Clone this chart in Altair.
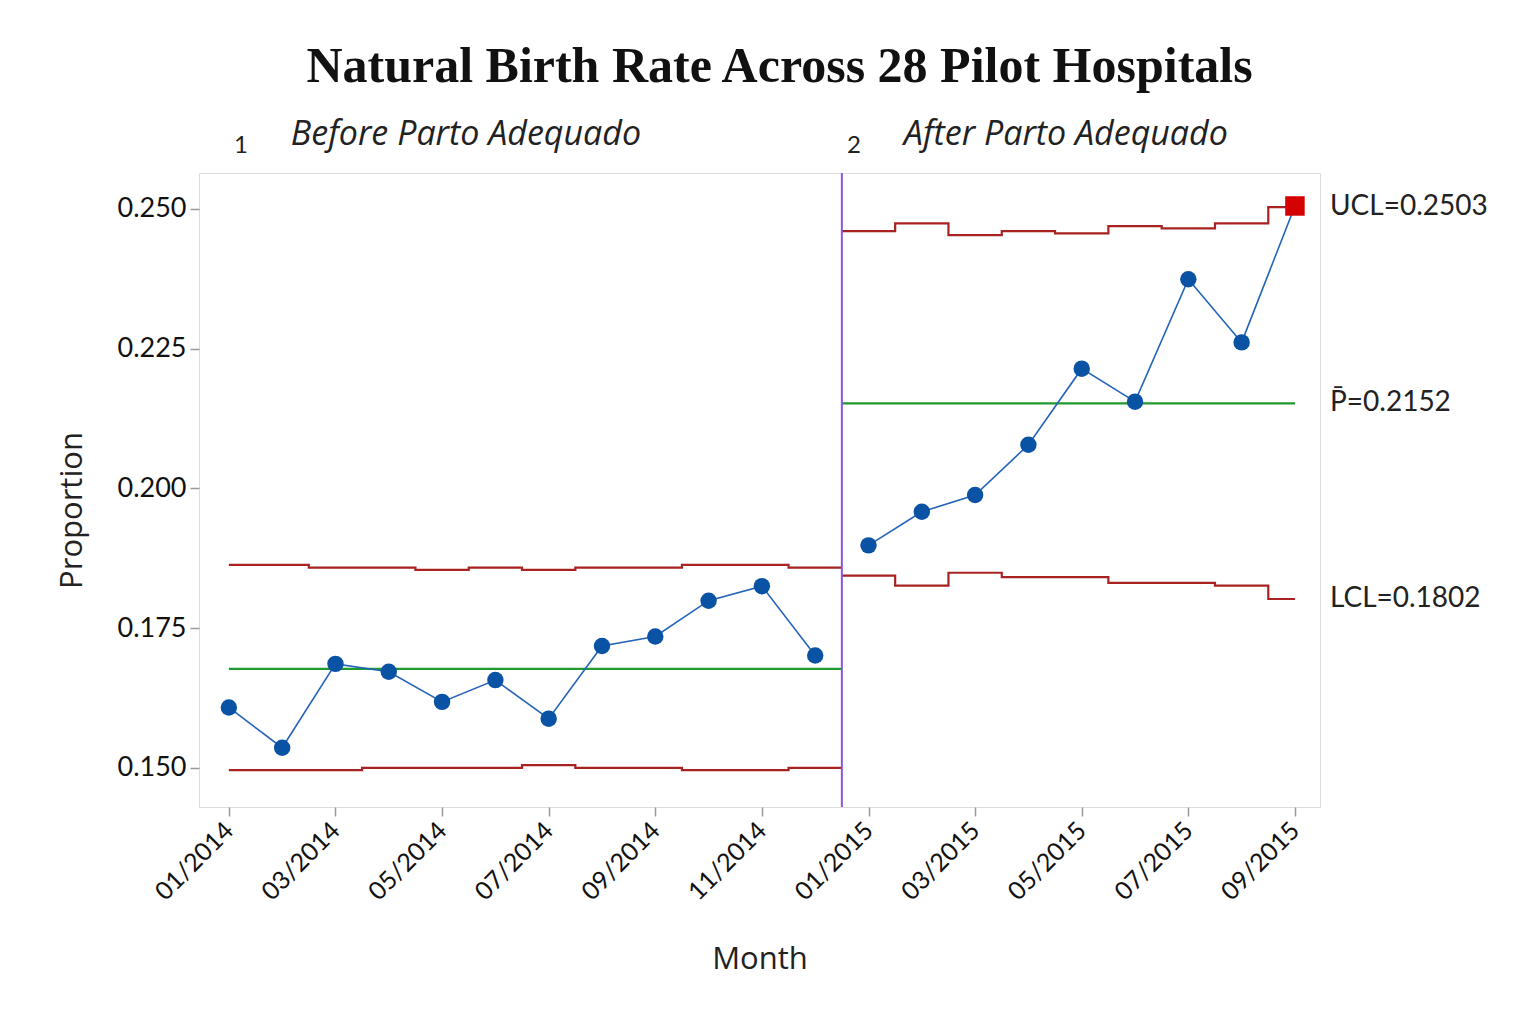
import altair as alt
import pandas as pd

title_text = "Natural Birth Rate Across 28 Pilot Hospitals"
x_title = "Month"
y_title = "Proportion"

months = ["01/2014", "02/2014", "03/2014", "04/2014", "05/2014", "06/2014",
          "07/2014", "08/2014", "09/2014", "10/2014", "11/2014", "12/2014",
          "01/2015", "02/2015", "03/2015", "04/2015", "05/2015", "06/2015",
          "07/2015", "08/2015", "09/2015"]
proportion = [0.1608, 0.1536, 0.1686, 0.1672, 0.1618, 0.1657, 0.1588, 0.1718,
              0.1735, 0.1799, 0.1825, 0.1701,
              0.1898, 0.1958, 0.1988, 0.2078, 0.2214, 0.2155, 0.2374, 0.2261, 0.2505]
ucl = [0.1863, 0.1863, 0.1858, 0.1858, 0.1854, 0.1858, 0.1854, 0.1858,
       0.1858, 0.1863, 0.1863, 0.1858,
       0.2460, 0.2474, 0.2453, 0.2460, 0.2456, 0.2469, 0.2465, 0.2474, 0.2503]
lcl = [0.1496, 0.1496, 0.1496, 0.1500, 0.1500, 0.1500, 0.1505, 0.1500,
       0.1500, 0.1496, 0.1496, 0.1500,
       0.1844, 0.1826, 0.1849, 0.1841, 0.1841, 0.1831, 0.1831, 0.1826, 0.1802]
stage_ids = ["1", "2"]
stage_names = ["Before Parto Adequado", "After Parto Adequado"]
stage_sizes = [12, 9]
stage_center = [0.1677, 0.2152]
y_ticks = [0.150, 0.175, 0.200, 0.225, 0.250]

# ---------- build tables ----------
idx = list(range(1, len(months) + 1))
stage_of = []
for s, n in enumerate(stage_sizes):
    stage_of += [stage_ids[s]] * n

pts = pd.DataFrame({"idx": idx, "month": months, "p": proportion,
                    "stage": stage_of, "ucl": ucl, "lcl": lcl})
pts["status"] = ["out" if (p > u or p < l) else "in"
                 for p, u, l in zip(proportion, ucl, lcl)]

# stage boundaries (between last point of a stage and first of next)
bounds = []
start = 0
for n in stage_sizes[:-1]:
    start += n
    bounds.append(start + 0.5)

rows = []
pos = 0
for s, n in enumerate(stage_sizes):
    members = list(range(pos, pos + n))
    seq = []
    if s > 0:
        seq.append((bounds[s - 1], members[0]))
    for m in members:
        seq.append((idx[m], m))
    if s < len(stage_sizes) - 1:
        seq.append((bounds[s], members[-1]))
    for xval, m in seq:
        rows.append({"x": xval, "stage": stage_ids[s], "kind": "UCL", "v": ucl[m]})
        rows.append({"x": xval, "stage": stage_ids[s], "kind": "LCL", "v": lcl[m]})
        rows.append({"x": xval, "stage": stage_ids[s], "kind": "CL", "v": stage_center[s]})
    pos += n
limits = pd.DataFrame(rows)

stage_starts = [1] + bounds
stage_df = pd.DataFrame({"x": stage_starts, "sid": stage_ids, "name": stage_names})
bound_df = pd.DataFrame({"x": bounds})

right_labels = pd.DataFrame({
    "v": [ucl[-1], stage_center[-1], lcl[-1]],
    "label": [f"UCL={ucl[-1]:.4f}", f"P\u0304={stage_center[-1]:.4f}", f"LCL={lcl[-1]:.4f}"],
})

# ---------- scales ----------
W, H = 1121, 634
xscale = alt.Scale(domain=[0.44, 21.47], nice=False, zero=False)
yscale = alt.Scale(domain=[0.1430, 0.2564], nice=False, zero=False)

label_array = "[" + ",".join(f"'{m}'" for m in months) + "]"
x_axis = alt.Axis(values=[i for i in idx if (i - 1) % 2 == 0],
                  labelExpr=f"{label_array}[datum.value - 1]",
                  labelAngle=-45, labelAlign="right", labelBaseline="middle",
                  labelFont="Lato", labelFontSize=25, labelColor="#111111",
                  labelPadding=10, labelOffset=0,
                  tickSize=9, tickColor="#999999", tickWidth=1.5,
                  domain=False, grid=False,
                  title=x_title, titleFont="Open Sans", titleFontSize=31,
                  titleFontWeight="normal", titleColor="#222222", titlePadding=40)
y_axis = alt.Axis(values=y_ticks, format=".3f",
                  labelFont="Lato", labelFontSize=27, labelColor="#111111",
                  labelPadding=4,
                  tickSize=9, tickColor="#999999", tickWidth=1.5,
                  domain=False, grid=False,
                  title=y_title, titleFont="Open Sans", titleFontSize=31,
                  titleFontWeight="normal", titleColor="#222222", titlePadding=28,
                  titleY=337)

RED = "#a82222"
GREEN = "#1f9a2e"
BLUE_LINE = "#2464b8"
BLUE_PT = "#0a52a4"
OUT_RED = "#d50000"
PURPLE = "#8a55e0"

limit_lines = alt.Chart(limits).mark_line(interpolate="step", strokeWidth=2.2).encode(
    x=alt.X("x:Q", scale=xscale, axis=x_axis),
    y=alt.Y("v:Q", scale=yscale, axis=y_axis),
    color=alt.Color("kind:N", scale=alt.Scale(domain=["UCL", "LCL", "CL"],
                                              range=[RED, RED, GREEN]), legend=None),
    detail="stage:N",
)

stage_rule = alt.Chart(bound_df).mark_rule(color=PURPLE, strokeWidth=2).encode(
    x=alt.X("x:Q", scale=xscale),
)

data_line = alt.Chart(pts).mark_line(color=BLUE_LINE, strokeWidth=1.6).encode(
    x=alt.X("idx:Q", scale=xscale),
    y=alt.Y("p:Q", scale=yscale),
    detail="stage:N",
)

data_pts = alt.Chart(pts).mark_point(filled=True, opacity=1).encode(
    x=alt.X("idx:Q", scale=xscale),
    y=alt.Y("p:Q", scale=yscale),
    shape=alt.Shape("status:N", scale=alt.Scale(domain=["in", "out"],
                                                range=["circle", "square"]), legend=None),
    color=alt.Color("status:N", scale=alt.Scale(domain=["in", "out"],
                                                range=[BLUE_PT, OUT_RED]), legend=None),
    size=alt.Size("status:N", scale=alt.Scale(domain=["in", "out"], range=[270, 380]),
                  legend=None),
)

stage_num = alt.Chart(stage_df).mark_text(
    font="Lato", fontSize=24, color="#222222", align="center", baseline="middle", dx=12
).encode(x=alt.X("x:Q", scale=xscale), y=alt.value(-27), text="sid:N")

stage_name = alt.Chart(stage_df).mark_text(
    font="Open Sans", fontSize=34, fontStyle="italic", color="#222222",
    align="left", baseline="middle", dx=62
).encode(x=alt.X("x:Q", scale=xscale), y=alt.value(-38), text="name:N")

right_text = alt.Chart(right_labels).mark_text(
    font="Lato", fontSize=28, color="#222222", align="left", baseline="middle"
).encode(x=alt.value(W + 10), y=alt.Y("v:Q", scale=yscale), text="label:N")

chart = alt.layer(
    limit_lines, stage_rule, data_line, data_pts, stage_num, stage_name, right_text
).resolve_scale(
    color="independent", shape="independent", size="independent"
).properties(
    width=W, height=H,
    title=alt.TitleParams(title_text, font="Liberation Serif", fontSize=50,
                          fontWeight="bold", color="#111111", anchor="middle",
                          dx=20, offset=26),
    autosize=alt.AutoSizeParams(type="none"),
    padding={"left": 191, "top": 165, "right": 205, "bottom": 200},
).configure_view(
    stroke="#a8a8a8", strokeWidth=2
).configure(background="white")

chart.save("out.html", embed_options={"renderer": "svg", "actions": False})
